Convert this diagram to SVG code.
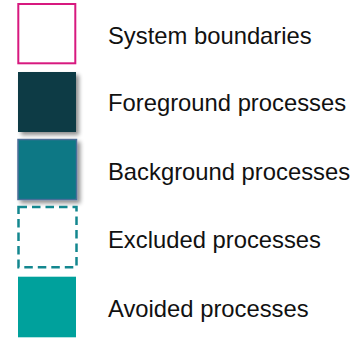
<svg xmlns="http://www.w3.org/2000/svg" width="360" height="340" viewBox="0 0 360 340">
  <defs>
    <filter id="shadow" x="-20%" y="-20%" width="150%" height="150%">
      <feGaussianBlur in="SourceAlpha" stdDeviation="2"/>
      <feOffset dx="3" dy="3" result="blur"/>
      <feComponentTransfer><feFuncA type="linear" slope="0.45"/></feComponentTransfer>
      <feMerge><feMergeNode/><feMergeNode in="SourceGraphic"/></feMerge>
    </filter>
  </defs>
  <style>
    text { font-family: "Liberation Sans", Arial, sans-serif; font-size: 23.8px; fill: #111111; }
  </style>
  <rect width="360" height="340" fill="#ffffff"/>
  <g id="system-boundaries">
    <rect x="18.3" y="4" width="57" height="59.3" fill="#ffffff" stroke="#D7197F" stroke-width="2"/>
    <text x="108" y="44">System boundaries</text>
  </g>
  <g id="foreground-processes">
    <rect x="18" y="72" width="58" height="60" fill="#0B3A44" filter="url(#shadow)"/>
    <text x="108" y="110.7">Foreground processes</text>
  </g>
  <g id="background-processes">
    <rect x="18" y="139.5" width="58.5" height="60" fill="#0A7885" stroke="#4B6E98" stroke-width="1.5" filter="url(#shadow)"/>
    <text x="108" y="180.3">Background processes</text>
  </g>
  <g id="excluded-processes">
    <rect x="18.5" y="207" width="58" height="60.3" fill="none" stroke="#13878F" stroke-width="2.5" stroke-dasharray="8.5 5"/>
    <text x="108" y="248.3">Excluded processes</text>
  </g>
  <g id="avoided-processes">
    <rect x="18" y="276.7" width="58" height="60.6" fill="#00A19C"/>
    <text x="108" y="317">Avoided processes</text>
  </g>
  <g id="connectors"/>
</svg>
